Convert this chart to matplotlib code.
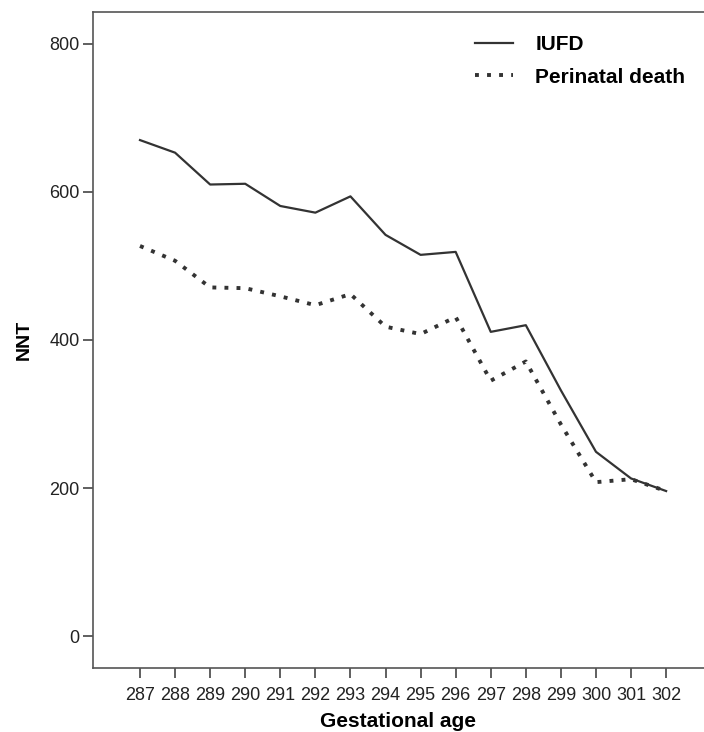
import matplotlib
matplotlib.use("Agg")
import matplotlib.pyplot as plt

ages = [287, 288, 289, 290, 291, 292, 293, 294, 295, 296, 297, 298, 299, 300, 301, 302]
iufd = [670, 653, 610, 611, 581, 572, 594, 542, 515, 519, 411, 420, 332, 249, 213, 196]
perinatal = [527, 507, 471, 470, 459, 447, 462, 418, 408, 431, 345, 371, 286, 208, 212, 196]
yticks = [0, 200, 400, 600, 800]

plt.rcParams['font.family'] = ['Liberation Sans', 'DejaVu Sans']

fig = plt.figure(figsize=(7.04, 7.32), dpi=100)
ax = fig.add_axes([93/704, 1 - 668/732, 1 - 93/704, (668 - 12)/732])

col = '#333333'
ax.plot(ages, iufd, color=col, lw=1.6, label='IUFD')
ax.plot(ages, perinatal, color=col, lw=2.8, linestyle=(0, (1, 2.1)), label='Perinatal death')

ax.set_xlim(285.66, 303.08)
ax.set_ylim(-43, 843)
ax.set_xticks(ages)
ax.set_xticklabels([str(a) for a in ages])
ax.set_yticks(yticks)
ax.tick_params(axis='both', direction='out', length=7.5, width=1.2, color='#444444',
               labelsize=13, labelcolor='#222222')
ax.tick_params(axis='x', pad=6)
ax.tick_params(axis='y', pad=2)
for s in ['left', 'bottom', 'top']:
    ax.spines[s].set_color('#555555')
    ax.spines[s].set_linewidth(1.2)
ax.spines['right'].set_visible(False)

ax.set_xlabel('Gestational age', fontsize=15, fontweight='bold', labelpad=6)
ax.set_ylabel('NNT', fontsize=14, fontweight='bold', labelpad=12)

leg = ax.legend(loc='upper right', frameon=False, fontsize=15, handlelength=1.85,
                handletextpad=1.05, labelspacing=0.65, borderaxespad=0.3,
                bbox_to_anchor=(0.993, 0.987))
for t in leg.get_texts():
    t.set_fontweight('bold')

fig.savefig('out.png', dpi=100)
